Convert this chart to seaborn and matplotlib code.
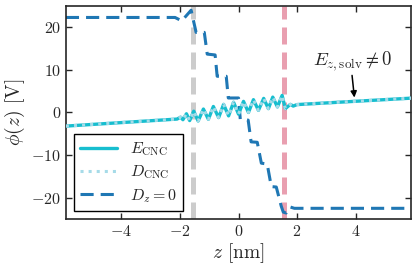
import numpy as np
import pandas as pd
import seaborn as sns
import matplotlib.pyplot as plt

# potential profiles phi(z)
z_E = [-5.90, -2.10, -1.98, -1.90, -1.78, -1.67, -1.53, -1.38, -1.20, -1.03,
       -0.86, -0.68, -0.51, -0.34, -0.17, 0.00, 0.17, 0.34, 0.51, 0.68,
       0.86, 1.02, 1.17, 1.33, 1.49, 1.60, 1.77, 1.87, 2.00, 5.90]
phi_E = [-3.20, -1.55, -1.10, -1.70, -0.30, -1.90, 0.30, -2.00, 0.80, -1.60,
         1.40, -1.20, 1.90, -0.80, 2.40, -0.40, 2.60, 0.00, 3.00, 0.50,
         3.30, 0.90, 3.60, 1.30, 4.00, 0.90, 1.90, 1.50, 1.85, 3.36]
z_D = z_E
phi_D = phi_E

z_D0 = [-5.90, -2.17, -1.94, -1.62, -1.45, -1.17, -1.07, -0.80, -0.73, -0.42,
        -0.35, 0.00, 0.06, 0.33, 0.43, 0.64, 0.78, 0.98, 1.12, 1.29,
        1.46, 1.53, 1.63, 1.77, 1.91, 5.90]
phi_D0 = [22.3, 22.3, 21.5, 24.0, 18.8, 18.8, 13.7, 13.5, 8.5, 8.5,
          3.4, 3.4, -1.6, -1.8, -6.9, -7.0, -11.9, -12.1, -17.4, -17.5,
          -22.0, -23.4, -23.6, -22.2, -22.5, -22.5]

interfaces = [-1.55, 1.55]
interface_colors = ['#cccccc', '#e99fb0']

sns.set_style('ticks')
plt.rcParams['font.family'] = ['cmr10']
plt.rcParams['mathtext.fontset'] = 'cm'
plt.rcParams['axes.formatter.use_mathtext'] = True
plt.rcParams['axes.unicode_minus'] = True

fig = plt.figure(figsize=(4.17, 2.71), dpi=100)
ax = fig.add_axes([0.158, 0.192, 0.828, 0.786])

for zi, c in zip(interfaces, interface_colors):
    ax.axvline(zi, color=c, lw=3.6, ls=(0, (3.4, 1.6)), zorder=1)

dfE = pd.DataFrame({'z': z_E, 'phi': phi_E})
dfD = pd.DataFrame({'z': z_D, 'phi': phi_D})
dfD0 = pd.DataFrame({'z': z_D0, 'phi': phi_D0})

sns.lineplot(data=dfE, x='z', y='phi', ax=ax, color='#17becf', lw=2.4,
             estimator=None, sort=False, label=r'$E_{\mathrm{CNC}}$', zorder=3)
sns.lineplot(data=dfD, x='z', y='phi', ax=ax, color='#a6dbe8', lw=2.2,
             ls=':', estimator=None, sort=False, label=r'$D_{\mathrm{CNC}}$', zorder=4)
sns.lineplot(data=dfD0, x='z', y='phi', ax=ax, color='#1f77b4', lw=2.2,
             estimator=None, sort=False, label=r'$D_z = 0$', zorder=2)
ax.lines[-1].set_dashes((4.3, 2.3))

ax.text(3.9, 12.0, r'$E_{z,\mathrm{solv}} \neq 0$', ha='center', va='center',
        fontsize=13.5)
ax.annotate('', xy=(3.96, 3.5), xytext=(3.88, 8.7),
            arrowprops=dict(arrowstyle='-|>', color='k', lw=1.1,
                            shrinkA=0, shrinkB=0, mutation_scale=9))

ax.set_xlim(-5.9, 5.9)
ax.set_ylim(-25, 25)
ax.set_xticks([-4, -2, 0, 2, 4])
ax.set_yticks([-20, -10, 0, 10, 20])
ax.set_xlabel(r'$z$ [nm]', fontsize=14, labelpad=2)
ax.set_ylabel(r'$\phi(z)$ [V]', fontsize=14, labelpad=3)
ax.tick_params(direction='in', top=True, right=True, length=4, width=1,
               labelsize=11.5)
for s in ax.spines.values():
    s.set_linewidth(1.2)

leg = ax.legend(loc='lower left', fontsize=11.5, frameon=True, fancybox=False,
                edgecolor='k', framealpha=1, handlelength=2.3,
                borderaxespad=0.5, labelspacing=0.35)
leg.get_frame().set_linewidth(1.0)

fig.savefig('out.png', dpi=100)
